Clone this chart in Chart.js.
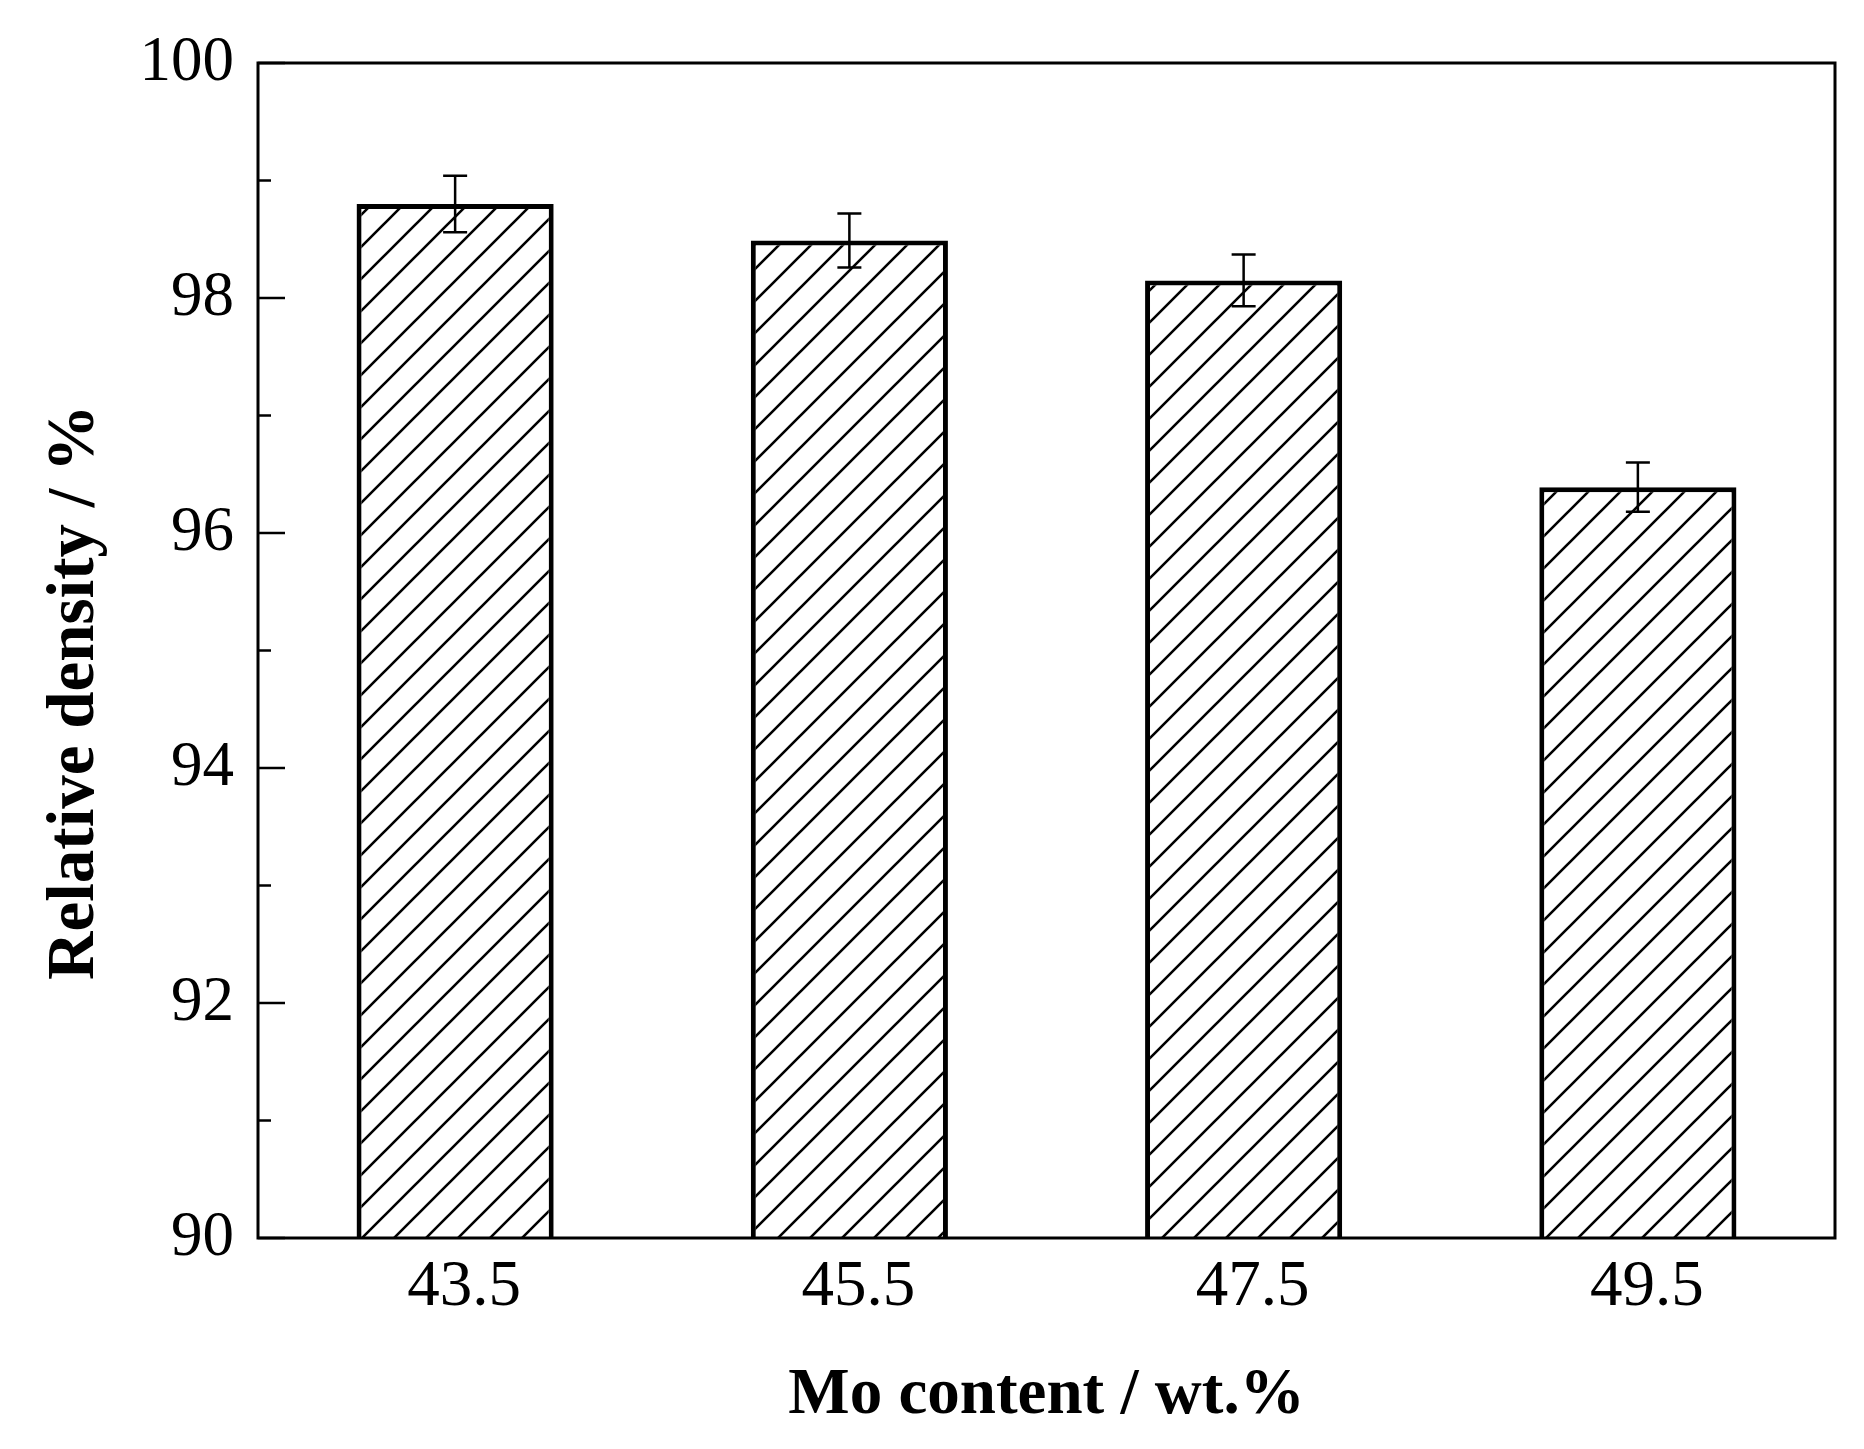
<!DOCTYPE html>
<html>
<head>
<meta charset="utf-8">
<script src="https://cdn.jsdelivr.net/npm/chart.js@4.4.0/dist/chart.umd.min.js"></script>
<style>
  html, body { margin: 0; padding: 0; background: #fff; }
  canvas { display: block; }
</style>
</head>
<body>
<canvas id="densityChart" width="1864" height="1449"></canvas>
<script>
var moContent = ['43.5', '45.5', '47.5', '49.5'];
var relDensity = [98.8, 98.49, 98.15, 96.39];
var densityErr = [0.24, 0.23, 0.22, 0.21];
var yMajorTicks = [90, 92, 94, 96, 98, 100];
var yMinorTicks = [91, 93, 95, 97, 99];

function hatchPattern() {
    var s = 32;
    var c = document.createElement('canvas');
    c.width = s; c.height = s;
    var g = c.getContext('2d');
    g.fillStyle = '#fff';
    g.fillRect(0, 0, s, s);
    g.strokeStyle = '#000';
    g.lineWidth = 2.6;
    g.beginPath();
    g.moveTo(-2, s + 2); g.lineTo(s + 2, -2);
    g.moveTo(-2, 2); g.lineTo(2, -2);
    g.moveTo(s - 2, s + 2); g.lineTo(s + 2, s - 2);
    g.stroke();
    return g.createPattern(c, 'repeat');
}

// frame, inward ticks and error bars
var extras = {
    id: 'extras',
    afterDatasetsDraw: function(chart) {
        var ctx = chart.ctx;
        var a = chart.chartArea;
        var y = chart.scales.y;
        ctx.save();
        ctx.strokeStyle = '#000';

        // error bars
        ctx.lineWidth = 2.5;
        var meta = chart.getDatasetMeta(0);
        meta.data.forEach(function(bar, i) {
            var yt = y.getPixelForValue(relDensity[i] + densityErr[i]);
            var yb = y.getPixelForValue(relDensity[i] - densityErr[i]);
            ctx.beginPath();
            ctx.moveTo(bar.x, yt); ctx.lineTo(bar.x, yb);
            ctx.moveTo(bar.x - 12, yt); ctx.lineTo(bar.x + 12, yt);
            ctx.moveTo(bar.x - 12, yb); ctx.lineTo(bar.x + 12, yb);
            ctx.stroke();
        });

        // inward ticks on left axis
        ctx.lineWidth = 2.5;
        yMajorTicks.forEach(function(v) {
            var py = y.getPixelForValue(v);
            ctx.beginPath(); ctx.moveTo(a.left, py); ctx.lineTo(a.left + 27, py); ctx.stroke();
        });
        yMinorTicks.forEach(function(v) {
            var py = y.getPixelForValue(v);
            ctx.beginPath(); ctx.moveTo(a.left, py); ctx.lineTo(a.left + 13, py); ctx.stroke();
        });

        // frame
        ctx.lineWidth = 3;
        ctx.strokeRect(a.left, a.top, a.right - a.left, a.bottom - a.top);
        ctx.restore();
    }
};

document.addEventListener('DOMContentLoaded', function() {
    var ctx = document.getElementById('densityChart').getContext('2d');
    new Chart(ctx, {
        type: 'bar',
        data: {
            labels: moContent,
            datasets: [{
                data: relDensity,
                backgroundColor: hatchPattern(),
                borderColor: '#000',
                borderWidth: 5,
                borderSkipped: false,
                barPercentage: 0.5,
                categoryPercentage: 1.0
            }]
        },
        options: {
            responsive: false,
            animation: false,
            devicePixelRatio: 1,
            layout: { padding: { left: 0, right: 29, top: 63, bottom: 0 } },
            plugins: { legend: { display: false }, tooltip: { enabled: false } },
            scales: {
                x: {
                    grid: { display: false, drawTicks: false },
                    border: { display: false },
                    ticks: {
                        color: '#000',
                        padding: 11,
                        labelOffset: 9,
                        font: { family: 'Liberation Serif', size: 65 }
                    },
                    title: {
                        display: true,
                        text: 'Mo content / wt.%',
                        color: '#000',
                        padding: { top: 0, bottom: 14 },
                        font: { family: 'Liberation Serif', size: 65, weight: 'bold' }
                    },
                    afterFit: function(scale) { scale.height = 211; }
                },
                y: {
                    min: 90,
                    max: 100,
                    grid: { display: false, drawTicks: false },
                    border: { display: false },
                    ticks: {
                        stepSize: 2,
                        color: '#000',
                        padding: 24,
                        font: { family: 'Liberation Serif', size: 63 }
                    },
                    title: {
                        display: true,
                        // trailing spaces nudge the rotated title down to sit like the original
                        text: 'Relative density / %     ',
                        color: '#000',
                        padding: { top: 35, bottom: 0 },
                        font: { family: 'Liberation Serif', size: 67, weight: 'bold' }
                    },
                    afterFit: function(scale) { scale.width = 258; }
                }
            }
        },
        plugins: [extras]
    });
});
</script>
</body>
</html>
